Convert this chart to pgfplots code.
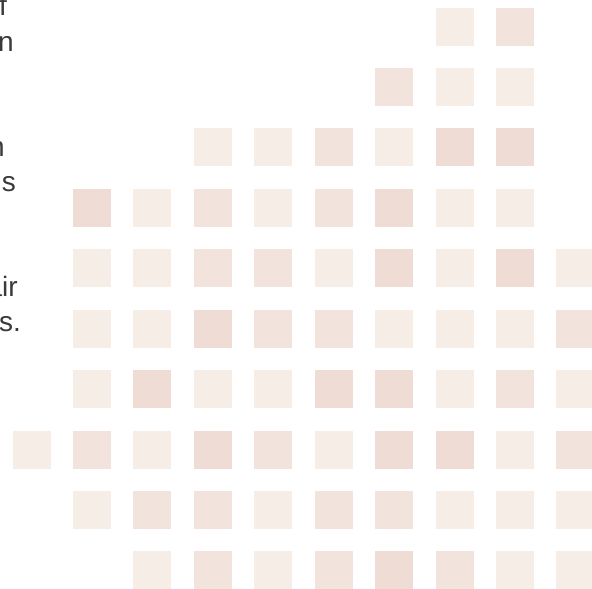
\documentclass[border=0pt]{standalone}
\usepackage{pgfplots}
\pgfplotsset{compat=1.18}
\usepackage{fontspec}
\setmainfont{Liberation Sans}
\definecolor{cL}{RGB}{246,237,231}
\definecolor{cM}{RGB}{242,228,221}
\definecolor{cD}{RGB}{239,221,213}
\definecolor{txt}{RGB}{58,58,58}
\pgfplotsset{sq/.style={only marks, mark=square*, mark size=18.5pt, mark options={solid, fill=#1, draw=#1, line width=0pt}}}
\begin{document}
\begin{tikzpicture}
\useasboundingbox (0,0) rectangle (592pt,589pt);
\begin{axis}[
  at={(0,0)}, anchor=south west,
  scale only axis, width=592pt, height=589pt,
  xmin=-0.5212, xmax=9.2736,
  ymin=-0.4385, ymax=9.3067,
  y dir=reverse,
  hide axis,
]
\addplot[sq=cL] coordinates {
 (7,0)
 (7,1) (8,1)
 (3,2) (4,2) (6,2)
 (2,3) (4,3) (7,3) (8,3)
 (1,4) (2,4) (5,4) (7,4) (9,4)
 (1,5) (2,5) (6,5) (7,5) (8,5)
 (1,6) (3,6) (4,6) (7,6) (9,6)
 (0,7) (2,7) (5,7) (8,7)
 (1,8) (4,8) (7,8) (8,8) (9,8)
 (2,9) (4,9) (8,9) (9,9)
};
\addplot[sq=cM] coordinates {
 (8,0)
 (6,1)
 (5,2)
 (3,3) (5,3)
 (3,4) (4,4)
 (4,5) (5,5) (9,5)
 (8,6)
 (1,7) (4,7) (9,7)
 (2,8) (3,8) (5,8) (6,8)
 (3,9) (5,9) (7,9)
};
\addplot[sq=cD] coordinates {
 (7,2) (8,2)
 (1,3) (6,3)
 (6,4) (8,4)
 (3,5)
 (2,6) (5,6) (6,6)
 (3,7) (6,7) (7,7)
 (6,9)
};
\end{axis}
\begin{scope}
\clip (0,0) rectangle (592pt,589pt);
\begin{scope}[every node/.style={anchor=base east, inner sep=0pt, text=txt, font=\fontsize{28}{34}\selectfont}]
\node at (7pt,573pt) {of};
\node at (14pt,537pt) {in};
\node at (5pt,432pt) {in};
\node at (16pt,397pt) {is};
\node at (18pt,292pt) {pair};
\node at (21pt,257pt) {days.};
\end{scope}
\end{scope}
\end{tikzpicture}
\end{document}
